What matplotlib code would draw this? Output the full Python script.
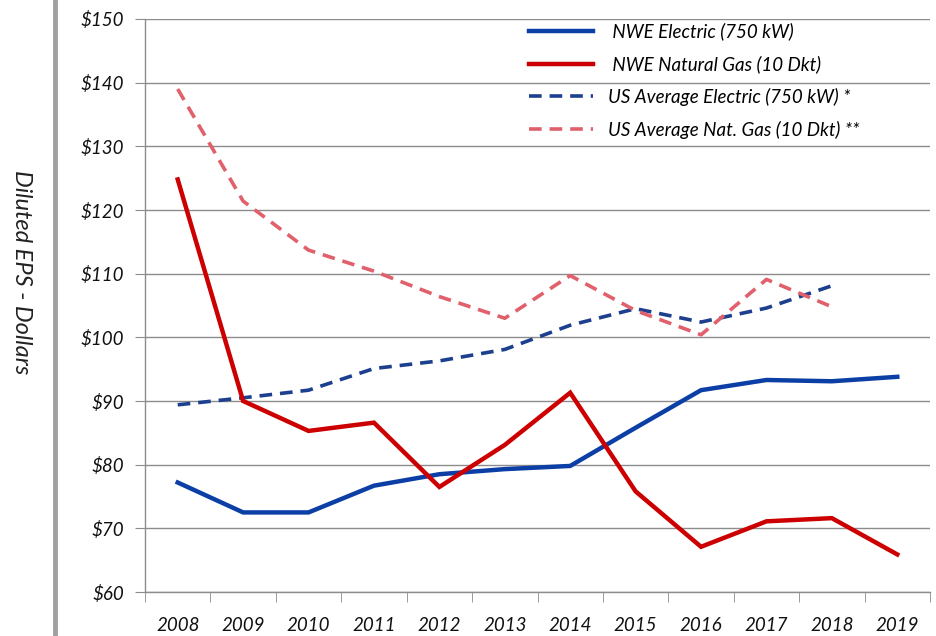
import matplotlib
matplotlib.use("Agg")
import matplotlib.pyplot as plt
from matplotlib.lines import Line2D
from matplotlib.ticker import FixedLocator

years = ["2008", "2009", "2010", "2011", "2012", "2013", "2014", "2015", "2016", "2017", "2018", "2019"]
nwe_electric = [77.2, 72.5, 72.5, 76.7, 78.5, 79.3, 79.8, 85.8, 91.7, 93.3, 93.1, 93.8]
nwe_gas = [124.8, 90.0, 85.3, 86.6, 76.5, 83.1, 91.3, 75.8, 67.1, 71.1, 71.6, 65.9]
us_electric = [89.4, 90.5, 91.7, 95.1, 96.3, 98.1, 101.9, 104.5, 102.4, 104.6, 108.1]
us_gas = [139.0, 121.4, 113.7, 110.4, 106.4, 103.0, 109.7, 104.2, 100.4, 109.1, 104.8]
y_ticks = [60, 70, 80, 90, 100, 110, 120, 130, 140, 150]
labels = [" NWE Electric (750 kW)", " NWE Natural Gas (10 Dkt)",
          "US Average Electric (750 kW) *", "US Average Nat. Gas (10 Dkt) **"]

plt.rcParams['font.family'] = ['Lato', 'DejaVu Sans']

fig = plt.figure(figsize=(9.36, 6.36), dpi=100)
ax = fig.add_axes([145/936, 1 - 592/636, (930-145)/936, (592-19)/636])

x = list(range(len(years)))
ax.plot(x, nwe_electric, color="#0b3fa6", lw=3.2, solid_joinstyle="miter", label=labels[0], zorder=4)
ax.plot(x, nwe_gas, color="#cc0000", lw=3.2, solid_joinstyle="miter", label=labels[1], zorder=4)
ax.plot(x[:len(us_electric)], us_electric, color="#1c3f8e", lw=2.6, dashes=(3.5, 2.2), label=labels[2], zorder=3)
ax.plot(x[:len(us_gas)], us_gas, color="#e0606c", lw=2.6, dashes=(3.5, 2.2), label=labels[3], zorder=3)

ax.set_xlim(-0.5, len(years) - 0.5)
ax.set_ylim(60, 150)
ax.set_yticks(y_ticks)
ax.set_yticklabels([f"${v}" for v in y_ticks])
ax.set_xticks(x)
ax.set_xticklabels(years)
ax.xaxis.set_minor_locator(FixedLocator([i - 0.5 for i in range(len(years) + 1)]))

ax.grid(axis="y", color="#8c8c8c", lw=1.0)
ax.set_axisbelow(True)
for s in ["top", "right"]:
    ax.spines[s].set_visible(False)
for s in ["left", "bottom"]:
    ax.spines[s].set_color("#8c8c8c")
    ax.spines[s].set_linewidth(1.0)

ax.tick_params(axis="y", which="major", length=7, color="#8c8c8c", pad=8, labelsize=13.5)
ax.tick_params(axis="x", which="major", length=0, pad=18, labelsize=13.5)
ax.tick_params(axis="x", which="minor", length=7, color="#8c8c8c")
for t in ax.get_xticklabels() + ax.get_yticklabels():
    t.set_fontstyle("italic")
    t.set_color("#111111")

fig.text(21/936, 1 - 272/636, "Diluted EPS - Dollars", rotation=270, rotation_mode="anchor",
         ha="center", va="center", fontsize=17, fontstyle="italic", color="#222222")

fig.add_artist(Line2D([55/936, 55/936], [0, 1], transform=fig.transFigure, color="#a0a0a0", lw=3.5))

leg = ax.legend(loc="upper left", bbox_to_anchor=((512-145)/(930-145), 1.023), frameon=False,
                handlelength=3.4, handletextpad=0.8, labelspacing=0.78,
                prop={"style": "italic", "size": 13.5})
for t in leg.get_texts():
    t.set_color("#000000")

fig.savefig("out.png", dpi=100)
